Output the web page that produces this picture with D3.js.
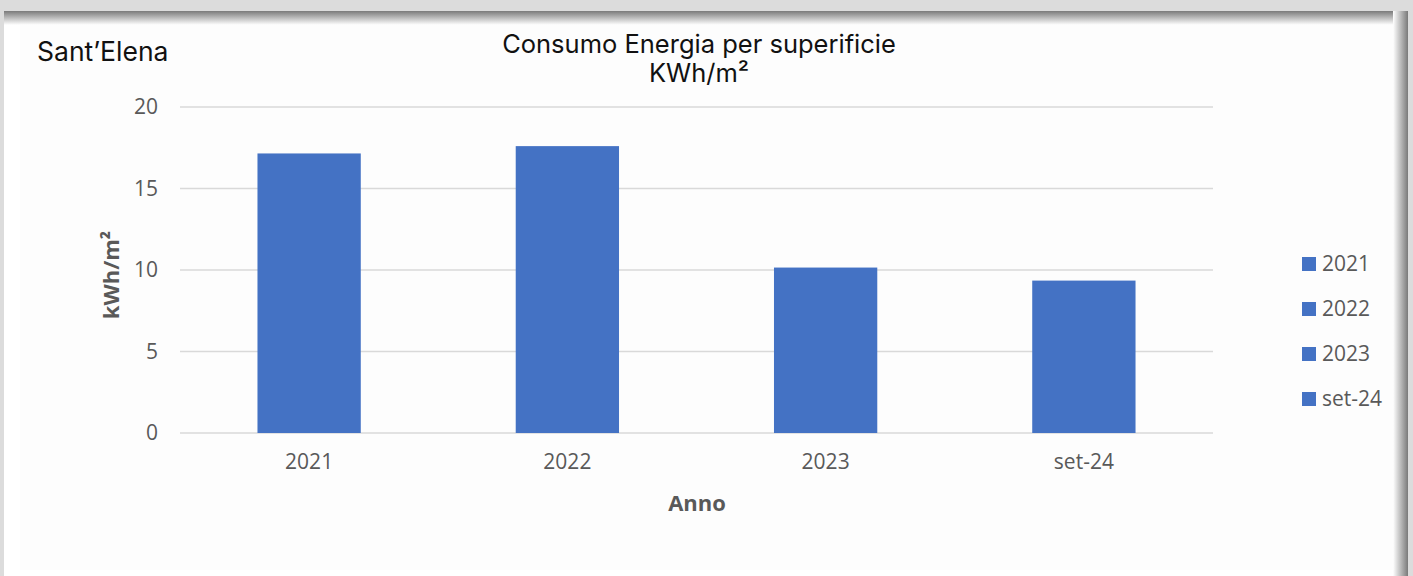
<!DOCTYPE html>
<html>
<head>
<meta charset="utf-8">
<script src="https://cdn.jsdelivr.net/npm/d3@7"></script>
<style>
  html, body { margin: 0; padding: 0; background: #ffffff; }
  svg { display: block; }
</style>
</head>
<body>
<svg id="chart" width="1413" height="576"></svg>
<script>
// data
var categories = ["2021", "2022", "2023", "set-24"];
var values = [17.15, 17.6, 10.15, 9.35];
var yTicks = [0, 5, 10, 15, 20];

var svg = d3.select('#chart');
var W = +svg.attr('width');
var H = +svg.attr('height');

// frame / shadow like the screenshot
var defs = svg.append('defs');
var gTop = defs.append('linearGradient').attr('id', 'shTop').attr('x1', 0).attr('y1', 0).attr('x2', 0).attr('y2', 1);
gTop.append('stop').attr('offset', '0%').attr('stop-color', '#7a7a7a');
gTop.append('stop').attr('offset', '100%').attr('stop-color', '#ffffff');
var gRight = defs.append('linearGradient').attr('id', 'shRight').attr('x1', 0).attr('y1', 0).attr('x2', 1).attr('y2', 0);
gRight.append('stop').attr('offset', '0%').attr('stop-color', '#ffffff');
gRight.append('stop').attr('offset', '100%').attr('stop-color', '#7a7a7a');

svg.append('rect').attr('x', 0).attr('y', 0).attr('width', W).attr('height', H).attr('fill', '#dcdcdc');
svg.append('rect').attr('x', 4).attr('y', 11).attr('width', 1404 - 4).attr('height', H - 11).attr('fill', '#ffffff');
svg.append('rect').attr('x', 20).attr('y', 24).attr('width', 1376).attr('height', 546).attr('fill', '#fdfdfd');
svg.append('rect').attr('x', 4).attr('y', 11).attr('width', 1400).attr('height', 14).attr('fill', 'url(#shTop)');
svg.append('rect').attr('x', 1393).attr('y', 11).attr('width', 15).attr('height', H - 11).attr('fill', 'url(#shRight)');

var padding = {t: 107, r: 200, b: 143, l: 180};
var chartWidth = 1213 - padding.l;
var chartHeight = 433 - padding.t;

var chartG = svg.append('g')
    .attr('transform', 'translate(' + [padding.l, padding.t] + ')');

var xScale = d3.scaleBand()
    .domain(categories)
    .range([0, chartWidth])
    .paddingInner(0.6)
    .paddingOuter(0.3);

var yScale = d3.scaleLinear()
    .domain([0, 20])
    .range([chartHeight, 0]);

// gridlines
chartG.append('g')
    .selectAll('line')
    .data(yTicks)
    .enter()
    .append('line')
    .attr('x1', 0)
    .attr('x2', chartWidth)
    .attr('y1', function(d) { return yScale(d); })
    .attr('y2', function(d) { return yScale(d); })
    .attr('stroke', '#d9d9d9')
    .attr('stroke-width', 1.5);

// y axis labels
var yAxisG = chartG.append('g')
    .call(d3.axisLeft(yScale).tickValues(yTicks).tickSize(0).tickPadding(22));
yAxisG.select('.domain').remove();
yAxisG.selectAll('text')
    .style('font-family', '"Open Sans", sans-serif')
    .style('font-size', '21px')
    .attr('fill', '#595959');

// x axis labels
var xAxisG = chartG.append('g')
    .attr('transform', 'translate(' + [0, chartHeight] + ')')
    .call(d3.axisBottom(xScale).tickSize(0).tickPadding(21));
xAxisG.select('.domain').remove();
xAxisG.selectAll('text')
    .style('font-family', '"Open Sans", sans-serif')
    .style('font-size', '21px')
    .attr('fill', '#595959');

// bars
chartG.selectAll('.bar')
    .data(values)
    .enter()
    .append('rect')
    .attr('class', 'bar')
    .attr('x', function(d, i) { return xScale(categories[i]); })
    .attr('width', xScale.bandwidth())
    .attr('y', function(d) { return yScale(d); })
    .attr('height', function(d) { return chartHeight - yScale(d); })
    .attr('fill', '#4472c4');

// axis titles
svg.append('text')
    .attr('x', 697)
    .attr('y', 511)
    .attr('text-anchor', 'middle')
    .style('font-family', '"Open Sans", sans-serif')
    .style('font-size', '22px')
    .style('font-weight', 'bold')
    .attr('fill', '#595959')
    .text('Anno');

svg.append('text')
    .attr('transform', 'translate(119,275) rotate(-90)')
    .attr('text-anchor', 'middle')
    .style('font-family', '"Open Sans", sans-serif')
    .style('font-size', '22px')
    .style('font-weight', 'bold')
    .attr('fill', '#595959')
    .text('kWh/m²');

// titles
svg.append('text')
    .attr('x', 699)
    .attr('y', 53)
    .attr('text-anchor', 'middle')
    .style('font-family', 'Inter, sans-serif')
    .style('font-size', '25.5px')
    .attr('fill', '#111')
    .text('Consumo Energia per superificie');
svg.append('text')
    .attr('x', 699)
    .attr('y', 82)
    .attr('text-anchor', 'middle')
    .style('font-family', 'Inter, sans-serif')
    .style('font-size', '25.5px')
    .attr('fill', '#111')
    .text('KWh/m²');

svg.append('text')
    .attr('x', 37)
    .attr('y', 61)
    .style('font-family', 'Inter, sans-serif')
    .style('font-size', '26.5px')
    .attr('fill', '#111')
    .text('Sant’Elena');

// legend
var legendG = svg.append('g').attr('transform', 'translate(1302,257)');
var legendItems = legendG.selectAll('.legend')
    .data(categories)
    .enter()
    .append('g')
    .attr('class', 'legend')
    .attr('transform', function(d, i) { return 'translate(' + [0, i * 45] + ')'; });
legendItems.append('rect')
    .attr('width', 14)
    .attr('height', 14)
    .attr('fill', '#4472c4');
legendItems.append('text')
    .attr('x', 20)
    .attr('y', 14)
    .style('font-family', '"Open Sans", sans-serif')
    .style('font-size', '21px')
    .attr('fill', '#595959')
    .text(function(d) { return d; });
</script>
</body>
</html>
